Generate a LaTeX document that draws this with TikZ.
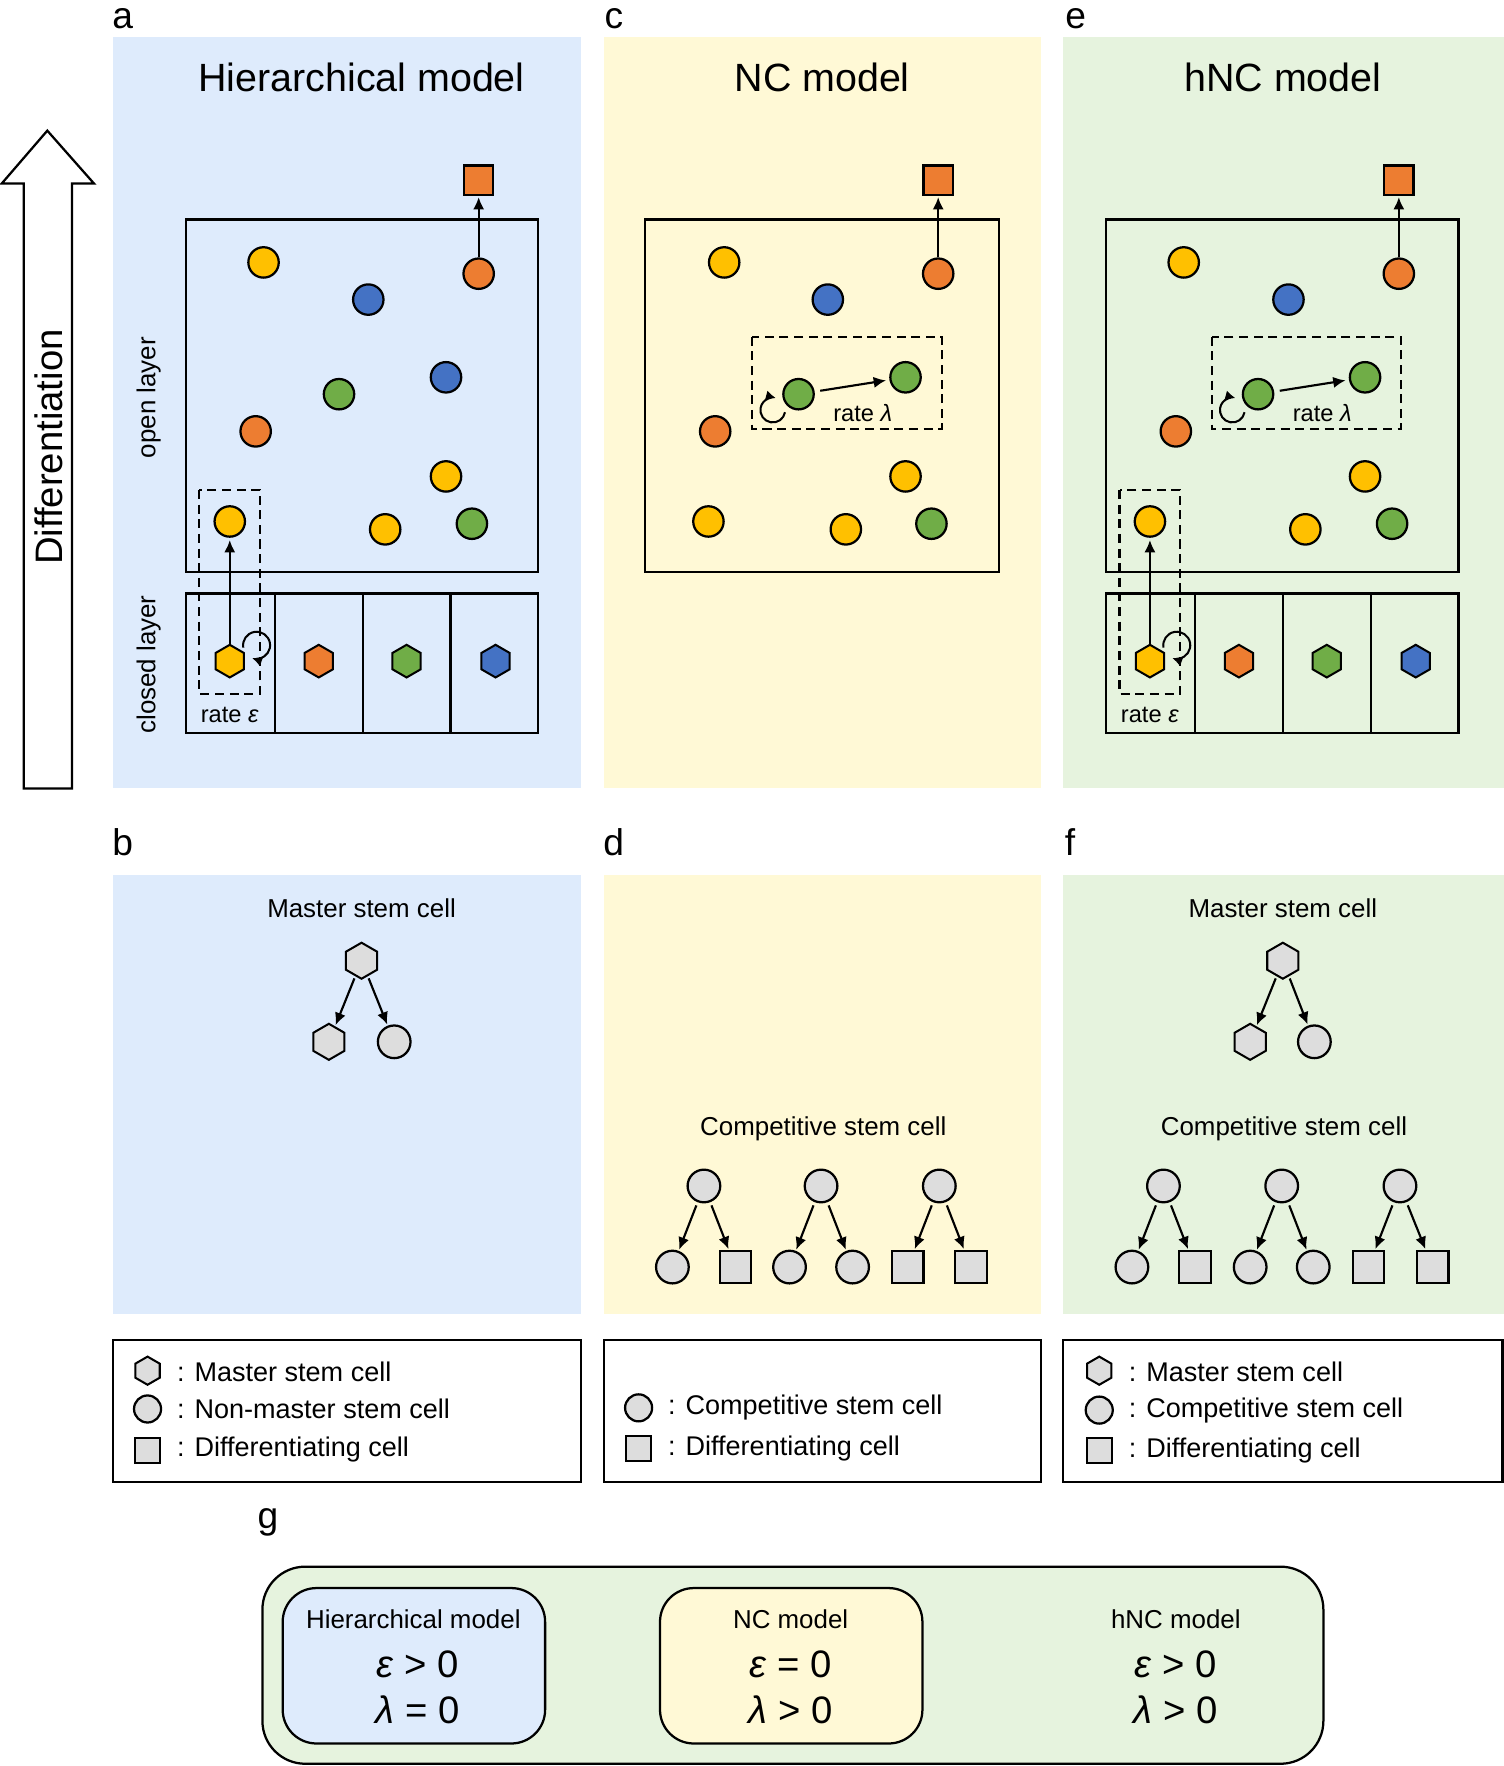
\documentclass[tikz,border=0pt]{standalone}
\usepackage{fontspec}
\setmainfont{Liberation Sans}
\usetikzlibrary{arrows.meta}
\usetikzlibrary{shapes.geometric}
\usetikzlibrary{positioning}
\definecolor{bgblue}{HTML}{DEEBFC}
\definecolor{bgyellow}{HTML}{FFF9D6}
\definecolor{bggreen}{HTML}{E6F3DE}
\definecolor{cyel}{HTML}{FFC000}
\definecolor{corg}{HTML}{ED7D31}
\definecolor{cgrn}{HTML}{70AD47}
\definecolor{cblu}{HTML}{4472C4}
\definecolor{cgry}{HTML}{DDDDDD}
\tikzset{cell/.style = {draw, circle, line width = 2pt, inner sep = 0, minimum size = 27pt}}
\tikzset{hexcell/.style = {draw, regular polygon, regular polygon sides = 6, shape border rotate = 30, line width = 1.8pt, inner sep = 0, minimum size = 29pt}}
\tikzset{sqcell/.style = {draw, rectangle, line width = 2pt, inner sep = 0, minimum size = 26pt}}
\tikzset{treecirc/.style = {cell, fill = cgry, minimum size = 29pt}}
\tikzset{treehex/.style = {hexcell, fill = cgry, minimum size = 32pt}}
\tikzset{treesq/.style = {sqcell, fill = cgry, minimum size = 28pt}}
\tikzset{layerbox/.style = {draw, line width = 2pt}}
\tikzset{dashbox/.style = {draw, line width = 1.9pt, dash pattern = on 8pt off 5pt}}
\tikzset{arr/.style = {-{Latex[length = 11pt, width = 10pt]}, line width = 1.9pt}}
\tikzset{looparr/.style = {-{Latex[length = 9pt, width = 9pt]}, line width = 1.8pt}}
\tikzset{paneltag/.style = {inner sep = 0, font = \fontsize{33}{40}\selectfont}}
\tikzset{paneltitle/.style = {font = \fontsize{35}{42}\selectfont}}
\tikzset{sidelabel/.style = {rotate = 90, font = \fontsize{23}{28}\selectfont}}
\tikzset{ratelabel/.style = {font = \fontsize{21}{25}\selectfont}}
\tikzset{subtitle/.style = {font = \fontsize{23}{28}\selectfont}}
\tikzset{legtext/.style = {anchor = west, inner sep = 0, font = \fontsize{24}{29}\selectfont}}
\tikzset{condtext/.style = {font = \fontsize{34}{40}\selectfont}}

\begin{document}
\begin{tikzpicture}[x = 1pt, y = -1pt]
      \useasboundingbox (0, 0) rectangle (1335, 1568);

      % coloured panels
      \fill [bgblue] (100, 33) rectangle (516, 700);
      \fill [bgyellow] (536, 33) rectangle (924, 700);
      \fill [bggreen] (944, 33) rectangle (1335, 700);
      \fill [bgblue] (100, 777) rectangle (516, 1167);
      \fill [bgyellow] (536, 777) rectangle (924, 1167);
      \fill [bggreen] (944, 777) rectangle (1335, 1167);

      \node [paneltag] (taga) at (109, 17) {a};
      \node [paneltag] (tagc) at (545, 17) {c};
      \node [paneltag] (tage) at (955, 17) {e};
      \node [paneltag] (tagb) at (109, 748) {b};
      \node [paneltag] (tagd) at (545, 748) {d};
      \node [paneltag] (tagf) at (950, 748) {f};
      \node [paneltag] (tagg) at (238, 1352) {g};

      % differentiation arrow
      \draw [line width = 2pt, fill = white] (21, 700) -- (21, 163) -- (1.5, 163) -- (42, 116)
        -- (83.5, 163) -- (64, 163) -- (64, 700) -- cycle;
      \node [rotate = 90, font = \fontsize{34}{40}\selectfont] (difftext) at (43, 397) {Differentiation};

      % panel a
      \node [paneltitle] (atitle) at (321, 69) {Hierarchical model};
      \draw [layerbox] (165, 195) rectangle (478, 508);
      \draw [layerbox] (165, 527) rectangle (478, 651);
      \draw [layerbox] (244, 527) -- (244, 651);
      \draw [layerbox] (322, 527) -- (322, 651);
      \draw [layerbox] (400, 527) -- (400, 651);
      \node [sidelabel] (aopen) at (132, 353) {open layer};
      \node [sidelabel] (aclosed) at (132, 590) {closed layer};
      \draw [dashbox] (177, 435) rectangle (231, 616);
      \node [sqcell, fill = corg] (asq) at (425, 160) {};
      \node [cell, fill = cyel] (a1) at (234, 233) {};
      \node [cell, fill = cblu] (a2) at (327, 266) {};
      \node [cell, fill = corg] (a3) at (425, 243) {};
      \node [cell, fill = cgrn] (a4) at (301, 350) {};
      \node [cell, fill = cblu] (a5) at (396, 335) {};
      \node [cell, fill = corg] (a6) at (227, 383) {};
      \node [cell, fill = cyel] (a7) at (396, 423) {};
      \node [cell, fill = cyel] (a8) at (204, 463) {};
      \node [cell, fill = cyel] (a9) at (342, 470) {};
      \node [cell, fill = cgrn] (a10) at (419, 465) {};
      \node [hexcell, fill = cyel] (ahex1) at (204, 587) {};
      \node [hexcell, fill = corg] (ahex2) at (283, 587) {};
      \node [hexcell, fill = cgrn] (ahex3) at (361, 587) {};
      \node [hexcell, fill = cblu] (ahex4) at (440, 587) {};
      \draw [arr, shorten > = 1pt] (a3) -- (asq);
      \draw [arr, shorten > = 2pt] (ahex1) -- (a8);
      \draw [looparr] (216, 575) arc [start angle = -190, end angle = 110, radius = 12];
      \node [ratelabel] (arate) at (204, 635) {rate \textit{ε}};

      % panel c
      \node [paneltitle] (ctitle) at (730, 69) {NC model};
      \draw [layerbox] (573, 195) rectangle (887, 508);
      \draw [dashbox] (668, 299) rectangle (836, 381);
      \node [sqcell, fill = corg] (csq) at (833, 160) {};
      \node [cell, fill = cyel] (c1) at (643, 233) {};
      \node [cell, fill = cblu] (c2) at (735, 266) {};
      \node [cell, fill = corg] (c3) at (833, 243) {};
      \node [cell, fill = cgrn] (c4) at (709, 350) {};
      \node [cell, fill = cgrn] (c5) at (804, 335) {};
      \node [cell, fill = corg] (c6) at (635, 383) {};
      \node [cell, fill = cyel] (c7) at (804, 423) {};
      \node [cell, fill = cyel] (c8) at (629, 463) {};
      \node [cell, fill = cyel] (c9) at (751, 470) {};
      \node [cell, fill = cgrn] (c10) at (827, 465) {};
      \draw [arr, shorten > = 1pt] (c3) -- (csq);
      \draw [arr, shorten < = 5pt, shorten > = 3pt] (c4) -- (c5);
      \draw [looparr] (697, 366) arc [start angle = 10, end angle = 285, radius = 11];
      \node [ratelabel] (crate) at (766, 367) {rate \textit{λ}};

      % panel e
      \node [paneltitle] (etitle) at (1139, 69) {hNC model};
      \draw [layerbox] (982, 195) rectangle (1295, 508);
      \draw [layerbox] (982, 527) rectangle (1295, 651);
      \draw [layerbox] (1061, 527) -- (1061, 651);
      \draw [layerbox] (1139, 527) -- (1139, 651);
      \draw [layerbox] (1217, 527) -- (1217, 651);
      \draw [dashbox] (994, 435) rectangle (1048, 616);
      \draw [dashbox] (1076, 299) rectangle (1244, 381);
      \node [sqcell, fill = corg] (esq) at (1242, 160) {};
      \node [cell, fill = cyel] (e1) at (1051, 233) {};
      \node [cell, fill = cblu] (e2) at (1144, 266) {};
      \node [cell, fill = corg] (e3) at (1242, 243) {};
      \node [cell, fill = cgrn] (e4) at (1117, 350) {};
      \node [cell, fill = cgrn] (e5) at (1212, 335) {};
      \node [cell, fill = corg] (e6) at (1044, 383) {};
      \node [cell, fill = cyel] (e7) at (1212, 423) {};
      \node [cell, fill = cyel] (e8) at (1021, 463) {};
      \node [cell, fill = cyel] (e9) at (1159, 470) {};
      \node [cell, fill = cgrn] (e10) at (1236, 465) {};
      \node [hexcell, fill = cyel] (ehex1) at (1021, 587) {};
      \node [hexcell, fill = corg] (ehex2) at (1100, 587) {};
      \node [hexcell, fill = cgrn] (ehex3) at (1178, 587) {};
      \node [hexcell, fill = cblu] (ehex4) at (1257, 587) {};
      \draw [arr, shorten > = 1pt] (e3) -- (esq);
      \draw [arr, shorten > = 2pt] (ehex1) -- (e8);
      \draw [arr, shorten < = 5pt, shorten > = 3pt] (e4) -- (e5);
      \draw [looparr] (1033, 575) arc [start angle = -190, end angle = 110, radius = 12];
      \draw [looparr] (1105, 366) arc [start angle = 10, end angle = 285, radius = 11];
      \node [ratelabel] (erate) at (1021, 635) {rate \textit{ε}};
      \node [ratelabel] (erate2) at (1174, 367) {rate \textit{λ}};

      % panel b
      \node [subtitle] (bmaster) at (321, 806) {Master stem cell};
      \node [treehex] (bm) at (321, 853) {};
      \node [treehex] (bm1) at (292, 925) {};
      \node [treecirc] (bm2) at (350, 925) {};
      \draw [arr, shorten < = 2pt, shorten > = 1pt] (bm) -- (bm1);
      \draw [arr, shorten < = 2pt, shorten > = 1pt] (bm) -- (bm2);

      % panel d
      \node [subtitle] (dcomp) at (731, 1002) {Competitive stem cell};
      \node [treecirc] (dt1) at (625, 1053) {};
      \node [treecirc] (dt2) at (729, 1053) {};
      \node [treecirc] (dt3) at (834, 1053) {};
      \node [treecirc] (dc1) at (597, 1125) {};
      \node [treesq] (dc2) at (653, 1125) {};
      \node [treecirc] (dc3) at (701, 1125) {};
      \node [treecirc] (dc4) at (757, 1125) {};
      \node [treesq] (dc5) at (806, 1125) {};
      \node [treesq] (dc6) at (862, 1125) {};
      \draw [arr, shorten < = 3pt, shorten > = 1pt] (dt1) -- (dc1);
      \draw [arr, shorten < = 3pt, shorten > = 1pt] (dt1) -- (dc2);
      \draw [arr, shorten < = 3pt, shorten > = 1pt] (dt2) -- (dc3);
      \draw [arr, shorten < = 3pt, shorten > = 1pt] (dt2) -- (dc4);
      \draw [arr, shorten < = 3pt, shorten > = 1pt] (dt3) -- (dc5);
      \draw [arr, shorten < = 3pt, shorten > = 1pt] (dt3) -- (dc6);

      % panel f
      \node [subtitle] (fmaster) at (1139, 806) {Master stem cell};
      \node [treehex] (fm) at (1139, 853) {};
      \node [treehex] (fm1) at (1110, 925) {};
      \node [treecirc] (fm2) at (1167, 925) {};
      \draw [arr, shorten < = 2pt, shorten > = 1pt] (fm) -- (fm1);
      \draw [arr, shorten < = 2pt, shorten > = 1pt] (fm) -- (fm2);
      \node [subtitle] (fcomp) at (1140, 1002) {Competitive stem cell};
      \node [treecirc] (ft1) at (1033, 1053) {};
      \node [treecirc] (ft2) at (1138, 1053) {};
      \node [treecirc] (ft3) at (1243, 1053) {};
      \node [treecirc] (fc1) at (1005, 1125) {};
      \node [treesq] (fc2) at (1061, 1125) {};
      \node [treecirc] (fc3) at (1110, 1125) {};
      \node [treecirc] (fc4) at (1166, 1125) {};
      \node [treesq] (fc5) at (1215, 1125) {};
      \node [treesq] (fc6) at (1272, 1125) {};
      \draw [arr, shorten < = 3pt, shorten > = 1pt] (ft1) -- (fc1);
      \draw [arr, shorten < = 3pt, shorten > = 1pt] (ft1) -- (fc2);
      \draw [arr, shorten < = 3pt, shorten > = 1pt] (ft2) -- (fc3);
      \draw [arr, shorten < = 3pt, shorten > = 1pt] (ft2) -- (fc4);
      \draw [arr, shorten < = 3pt, shorten > = 1pt] (ft3) -- (fc5);
      \draw [arr, shorten < = 3pt, shorten > = 1pt] (ft3) -- (fc6);

      % legends
      \draw [layerbox, fill = white] (100, 1190) rectangle (516, 1316);
      \node [treehex, minimum size = 25pt] (lbhex) at (131, 1217) {};
      \node [treecirc, minimum size = 24pt] (lbcirc) at (131, 1251) {};
      \node [treesq, minimum size = 22pt] (lbsq) at (131, 1288) {};
      \node [legtext] (lbt1) at (157, 1218) {: Master stem cell};
      \node [legtext] (lbt2) at (157, 1251) {: Non-master stem cell};
      \node [legtext] (lbt3) at (157, 1287) {: Differentiating cell};

      \draw [layerbox, fill = white] (536, 1190) rectangle (924, 1316);
      \node [treecirc, minimum size = 24pt] (ldcirc) at (567, 1250) {};
      \node [treesq, minimum size = 22pt] (ldsq) at (567, 1286) {};
      \node [legtext] (ldt1) at (593, 1250) {: Competitive stem cell};
      \node [legtext] (ldt2) at (593, 1286) {: Differentiating cell};

      \draw [layerbox, fill = white] (944, 1190) rectangle (1334, 1316);
      \node [treehex, minimum size = 25pt] (lfhex) at (976, 1217) {};
      \node [treecirc, minimum size = 24pt] (lfcirc) at (976, 1252) {};
      \node [treesq, minimum size = 22pt] (lfsq) at (976, 1288) {};
      \node [legtext] (lft1) at (1002, 1218) {: Master stem cell};
      \node [legtext] (lft2) at (1002, 1252) {: Competitive stem cell};
      \node [legtext] (lft3) at (1002, 1288) {: Differentiating cell};

      % panel g
      \draw [layerbox, fill = bggreen, rounded corners = 38pt] (233, 1391) rectangle (1175, 1566);
      \draw [layerbox, fill = bgblue, rounded corners = 30pt] (251, 1410) rectangle (484, 1548);
      \draw [layerbox, fill = bgyellow, rounded corners = 30pt] (586, 1410) rectangle (819, 1548);
      \node [subtitle] (ghier) at (367, 1438) {Hierarchical model};
      \node [condtext] (ghier1) at (371, 1478) {\textit{ε} > 0};
      \node [condtext] (ghier2) at (371, 1518) {\textit{λ} = 0};
      \node [subtitle] (gnc) at (702, 1438) {NC model};
      \node [condtext] (gnc1) at (702, 1478) {\textit{ε} = 0};
      \node [condtext] (gnc2) at (702, 1518) {\textit{λ} > 0};
      \node [subtitle] (ghnc) at (1044, 1438) {hNC model};
      \node [condtext] (ghnc1) at (1044, 1478) {\textit{ε} > 0};
      \node [condtext] (ghnc2) at (1044, 1518) {\textit{λ} > 0};
\end{tikzpicture}
\end{document}
